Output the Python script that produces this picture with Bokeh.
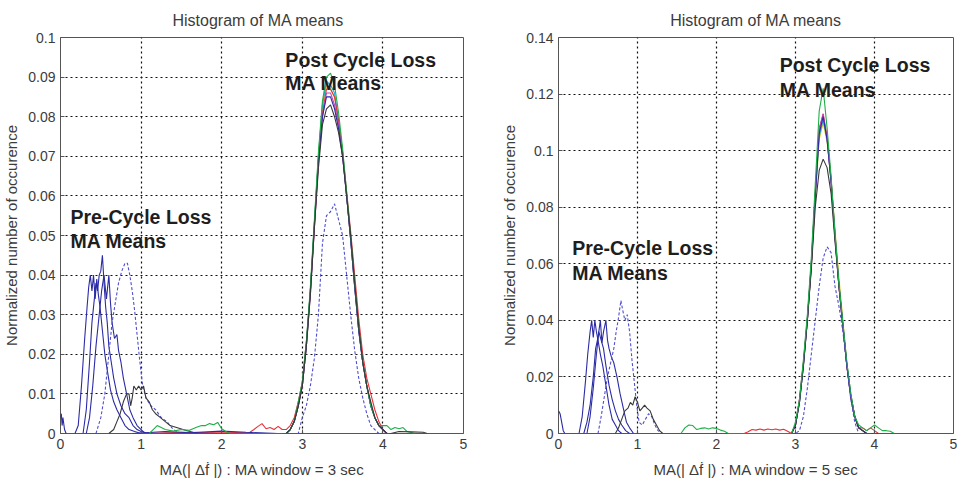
from bokeh.plotting import figure
from bokeh.layouts import row
from bokeh.models import FixedTicker, Label
from bokeh.embed import file_html
from bokeh.resources import INLINE

# ---------------- data: left panel (MA window = 3 sec) ----------------
L_YTICKS = [0, 0.01, 0.02, 0.03, 0.04, 0.05, 0.06, 0.07, 0.08, 0.09, 0.1]
L_YTICK_LABELS = ["0", "0.01", "0.02", "0.03", "0.04", "0.05", "0.06", "0.07", "0.08", "0.09", "0.1"]
XTICKS = [0, 1, 2, 3, 4, 5]
XTICK_LABELS = ["0", "1", "2", "3", "4", "5"]

L_SPIKE_X = [0.00, 0.01, 0.02, 0.03, 0.05, 0.07]
L_SPIKE_Y = [0.004, 0.005, 0.002, 0.004, 0.001, 0.0]

L_PRE_BLUE1_X = [0.18, 0.22, 0.26, 0.30, 0.33, 0.35, 0.37, 0.39, 0.41, 0.43, 0.45, 0.47,
                 0.49, 0.52, 0.55, 0.58, 0.62, 0.66, 0.70, 0.75, 0.80, 0.85, 0.92, 1.00]
L_PRE_BLUE1_Y = [0.0, 0.002, 0.012, 0.024, 0.032, 0.037, 0.040, 0.036, 0.040, 0.034, 0.039, 0.035,
                 0.032, 0.026, 0.020, 0.016, 0.011, 0.008, 0.006, 0.004, 0.002, 0.001, 0.0005, 0.0]

L_PRE_BLUE2_X = [0.28, 0.32, 0.36, 0.39, 0.42, 0.44, 0.46, 0.48, 0.50, 0.52, 0.54, 0.56,
                 0.58, 0.60, 0.63, 0.66, 0.70, 0.75, 0.80, 0.85, 0.90, 0.95, 1.00, 1.10]
L_PRE_BLUE2_Y = [0.0, 0.006, 0.018, 0.028, 0.034, 0.038, 0.036, 0.040, 0.041, 0.045, 0.038, 0.032,
                 0.028, 0.022, 0.018, 0.014, 0.010, 0.007, 0.005, 0.004, 0.002, 0.001, 0.0005, 0.0]

L_PRE_BLUE3_X = [0.32, 0.36, 0.40, 0.44, 0.48, 0.51, 0.54, 0.57, 0.60, 0.62, 0.64,
                 0.67, 0.70, 0.72, 0.75, 0.78, 0.82, 0.86, 0.90, 0.95, 1.00, 1.05]
L_PRE_BLUE3_Y = [0.0, 0.004, 0.012, 0.022, 0.030, 0.036, 0.040, 0.034, 0.040, 0.033, 0.028,
                 0.024, 0.025, 0.021, 0.018, 0.014, 0.010, 0.006, 0.004, 0.002, 0.001, 0.0]

L_PRE_DASH_X = [0.44, 0.50, 0.55, 0.60, 0.64, 0.68, 0.72, 0.76, 0.80, 0.83, 0.86, 0.89,
                0.92, 0.95, 0.98, 1.02, 1.06, 1.12, 1.18, 1.25, 1.32, 1.40, 1.50]
L_PRE_DASH_Y = [0.0, 0.004, 0.010, 0.020, 0.028, 0.033, 0.038, 0.041, 0.043, 0.043, 0.040, 0.036,
                0.031, 0.025, 0.019, 0.012, 0.009, 0.007, 0.006, 0.004, 0.003, 0.001, 0.0]

L_PRE_BLACK_X = [0.60, 0.66, 0.70, 0.74, 0.78, 0.82, 0.85, 0.87, 0.89, 0.91, 0.94, 0.97,
                 1.00, 1.03, 1.06, 1.10, 1.14, 1.18, 1.24, 1.30, 1.36, 1.44, 1.55, 1.70]
L_PRE_BLACK_Y = [0.0, 0.001, 0.003, 0.005, 0.008, 0.010, 0.010, 0.007, 0.009, 0.012, 0.011, 0.012,
                 0.011, 0.012, 0.009, 0.008, 0.006, 0.005, 0.004, 0.003, 0.002, 0.0015, 0.0008, 0.0]

L_GREEN_LOW_X = [1.10, 1.15, 1.20, 1.25, 1.30, 1.40, 1.50, 1.60, 1.68, 1.75, 1.80, 1.85,
                 1.90, 1.95, 2.00, 2.05, 2.10, 2.40, 2.70]
L_GREEN_LOW_Y = [0.0, 0.001, 0.002, 0.0015, 0.001, 0.0006, 0.001, 0.0008, 0.0015, 0.002, 0.002, 0.0025,
                 0.0022, 0.0028, 0.0012, 0.0005, 0.0, 0.0, 0.0]
L_RED_LOW_X = [1.00, 1.50, 2.00, 2.35, 2.40, 2.45, 2.50, 2.55, 2.60, 2.65, 2.70]
L_RED_LOW_Y = [0.0, 0.0003, 0.0002, 0.0003, 0.001, 0.0018, 0.0025, 0.0012, 0.0015, 0.001, 0.0018]
L_BLUE_LOW_X = [0.90, 1.30, 1.60, 2.00, 2.30, 2.70]
L_BLUE_LOW_Y = [0.0, 0.0005, 0.0002, 0.0006, 0.0003, 0.0]

L_POST_X = [2.75, 2.80, 2.85, 2.90, 2.95, 3.00, 3.05, 3.10, 3.15, 3.20, 3.25, 3.30, 3.35, 3.40,
            3.45, 3.50, 3.55, 3.60, 3.65, 3.70, 3.75, 3.80, 3.85, 3.90, 3.95, 4.00, 4.05, 4.10]
L_POST_YELLOW = [0.000, 0.000, 0.001, 0.003, 0.007, 0.012, 0.022, 0.036, 0.053, 0.070, 0.083, 0.088, 0.087, 0.085,
                 0.079, 0.071, 0.060, 0.049, 0.037, 0.026, 0.018, 0.012, 0.007, 0.004, 0.002, 0.001, 0.000, 0.000]
L_POST_CYAN = [0.000, 0.000, 0.001, 0.003, 0.007, 0.013, 0.023, 0.036, 0.053, 0.070, 0.083, 0.089, 0.088, 0.086,
               0.079, 0.071, 0.060, 0.049, 0.037, 0.026, 0.018, 0.012, 0.007, 0.004, 0.002, 0.001, 0.000, 0.000]
L_POST_RED = [0.001, 0.001, 0.002, 0.004, 0.008, 0.013, 0.023, 0.036, 0.052, 0.069, 0.081, 0.087, 0.087, 0.085,
              0.079, 0.071, 0.061, 0.051, 0.040, 0.029, 0.020, 0.014, 0.010, 0.006, 0.003, 0.001, 0.000, 0.000]
L_POST_MAGENTA = [0.000, 0.000, 0.001, 0.003, 0.007, 0.012, 0.022, 0.035, 0.052, 0.068, 0.080, 0.086, 0.086, 0.083,
                  0.078, 0.070, 0.060, 0.049, 0.037, 0.026, 0.018, 0.012, 0.007, 0.004, 0.002, 0.001, 0.000, 0.000]
L_POST_BLUE = [0.000, 0.000, 0.001, 0.003, 0.007, 0.012, 0.022, 0.036, 0.053, 0.069, 0.080, 0.085, 0.085, 0.082,
               0.077, 0.070, 0.060, 0.049, 0.037, 0.026, 0.018, 0.012, 0.007, 0.004, 0.002, 0.001, 0.000, 0.000]
L_POST_GREEN = [0.000, 0.000, 0.001, 0.003, 0.008, 0.013, 0.023, 0.037, 0.054, 0.071, 0.084, 0.090, 0.091, 0.088,
                0.081, 0.072, 0.061, 0.050, 0.038, 0.027, 0.018, 0.012, 0.007, 0.004, 0.002, 0.002, 0.002, 0.001]
L_POST_BLACK = [0.000, 0.000, 0.001, 0.003, 0.007, 0.012, 0.022, 0.035, 0.052, 0.067, 0.078, 0.082, 0.083, 0.080,
                0.076, 0.070, 0.060, 0.050, 0.038, 0.027, 0.018, 0.012, 0.008, 0.004, 0.002, 0.001, 0.000, 0.000]
L_POST_DASH = [0.000, 0.000, 0.000, 0.000, 0.000, 0.004, 0.007, 0.012, 0.019, 0.030, 0.048, 0.055, 0.056, 0.058,
               0.054, 0.050, 0.040, 0.030, 0.021, 0.014, 0.009, 0.005, 0.002, 0.001, 0.000, 0.000, 0.000, 0.000]
L_GREEN_TAIL_X = [4.15, 4.20, 4.25, 4.30, 4.40]
L_GREEN_TAIL_Y = [0.0015, 0.0012, 0.0015, 0.0005, 0.0]
L_BLACK_TAIL_X = [4.20, 4.35, 4.50, 4.55]
L_BLACK_TAIL_Y = [0.0005, 0.0004, 0.0003, 0.0]

# ---------------- data: right panel (MA window = 5 sec) ----------------
R_YTICKS = [0, 0.02, 0.04, 0.06, 0.08, 0.1, 0.12, 0.14]
R_YTICK_LABELS = ["0", "0.02", "0.04", "0.06", "0.08", "0.1", "0.12", "0.14"]

R_SPIKE_X = [0.00, 0.02, 0.04, 0.06, 0.08]
R_SPIKE_Y = [0.008, 0.007, 0.004, 0.001, 0.0]

R_PRE_BLUE1_X = [0.26, 0.30, 0.34, 0.37, 0.40, 0.42, 0.44, 0.46, 0.48, 0.50, 0.53, 0.56,
                 0.60, 0.64, 0.68, 0.72, 0.76, 0.80]
R_PRE_BLUE1_Y = [0.0, 0.006, 0.018, 0.028, 0.036, 0.040, 0.034, 0.040, 0.036, 0.033, 0.028, 0.024,
                 0.017, 0.010, 0.005, 0.003, 0.001, 0.0]

R_PRE_BLUE2_X = [0.32, 0.36, 0.40, 0.44, 0.47, 0.50, 0.53, 0.55, 0.57, 0.60, 0.62, 0.64,
                 0.67, 0.70, 0.74, 0.78, 0.82, 0.86, 0.90, 0.95]
R_PRE_BLUE2_Y = [0.0, 0.004, 0.010, 0.020, 0.030, 0.034, 0.040, 0.032, 0.036, 0.040, 0.033, 0.030,
                 0.027, 0.025, 0.020, 0.014, 0.009, 0.004, 0.002, 0.0]

R_PRE_BLUE3_X = [0.36, 0.40, 0.44, 0.48, 0.51, 0.54, 0.57, 0.60, 0.64, 0.68, 0.72, 0.76,
                 0.80, 0.85, 0.90]
R_PRE_BLUE3_Y = [0.0, 0.006, 0.016, 0.028, 0.036, 0.033, 0.030, 0.024, 0.017, 0.012, 0.008, 0.005,
                 0.003, 0.001, 0.0]

R_PRE_DASH_X = [0.50, 0.54, 0.58, 0.62, 0.66, 0.70, 0.73, 0.76, 0.79, 0.81, 0.84, 0.87,
                0.90, 0.93, 0.96, 0.99, 1.02, 1.06, 1.10, 1.14, 1.18, 1.22, 1.26, 1.31]
R_PRE_DASH_Y = [0.0, 0.006, 0.013, 0.020, 0.025, 0.030, 0.036, 0.041, 0.047, 0.044, 0.040, 0.042,
                0.036, 0.026, 0.018, 0.010, 0.004, 0.003, 0.005, 0.007, 0.006, 0.003, 0.001, 0.0]

R_PRE_BLACK_X = [0.72, 0.76, 0.80, 0.84, 0.88, 0.91, 0.94, 0.97, 1.00, 1.03, 1.06, 1.09,
                 1.12, 1.16, 1.20, 1.24, 1.28, 1.32]
R_PRE_BLACK_Y = [0.0, 0.002, 0.005, 0.008, 0.009, 0.011, 0.010, 0.013, 0.011, 0.008, 0.009, 0.010,
                 0.009, 0.008, 0.005, 0.003, 0.001, 0.0]

R_GREEN_LOW_X = [1.55, 1.60, 1.65, 1.70, 1.75, 1.80, 1.85, 1.90, 1.95, 2.00, 2.05, 2.10,
                 2.15, 2.50, 2.90]
R_GREEN_LOW_Y = [0.0, 0.002, 0.003, 0.0028, 0.0014, 0.0018, 0.002, 0.0016, 0.002, 0.0018, 0.0012, 0.0008,
                 0.0, 0.0, 0.0]
R_RED_LOW_X = [2.35, 2.40, 2.45, 2.50, 2.55, 2.60, 2.65, 2.70, 2.75, 2.80, 2.85, 2.90]
R_RED_LOW_Y = [0.0, 0.0006, 0.0014, 0.0012, 0.0016, 0.0012, 0.0016, 0.0013, 0.0016, 0.0012, 0.0015, 0.0008]

R_POST_X = [2.95, 3.00, 3.05, 3.10, 3.15, 3.20, 3.25, 3.30, 3.35, 3.40, 3.45, 3.50,
            3.55, 3.60, 3.65, 3.70, 3.75, 3.80, 3.85, 3.90, 3.95, 4.00, 4.05, 4.10]
R_POST_YELLOW = [0.000, 0.003, 0.011, 0.024, 0.040, 0.059, 0.083, 0.104, 0.110, 0.103, 0.090, 0.072,
                 0.055, 0.040, 0.025, 0.014, 0.006, 0.002, 0.001, 0.000, 0.000, 0.000, 0.000, 0.000]
R_POST_CYAN = [0.000, 0.003, 0.011, 0.024, 0.040, 0.060, 0.084, 0.105, 0.111, 0.104, 0.090, 0.071,
               0.053, 0.039, 0.025, 0.014, 0.006, 0.002, 0.001, 0.000, 0.000, 0.000, 0.000, 0.000]
R_POST_MAGENTA = [0.000, 0.003, 0.012, 0.025, 0.041, 0.060, 0.085, 0.108, 0.113, 0.104, 0.089, 0.070,
                  0.052, 0.038, 0.024, 0.013, 0.006, 0.002, 0.001, 0.000, 0.000, 0.000, 0.000, 0.000]
R_POST_RED = [0.000, 0.003, 0.012, 0.025, 0.040, 0.060, 0.085, 0.107, 0.113, 0.105, 0.090, 0.070,
              0.052, 0.038, 0.024, 0.013, 0.006, 0.002, 0.002, 0.001, 0.002, 0.001, 0.000, 0.000]
R_POST_BLUE = [0.000, 0.003, 0.011, 0.024, 0.040, 0.059, 0.084, 0.106, 0.112, 0.104, 0.089, 0.069,
               0.052, 0.038, 0.024, 0.013, 0.006, 0.002, 0.001, 0.000, 0.000, 0.000, 0.000, 0.000]
R_POST_GREEN = [0.000, 0.004, 0.012, 0.026, 0.042, 0.062, 0.088, 0.114, 0.122, 0.108, 0.091, 0.071,
                0.053, 0.039, 0.025, 0.014, 0.006, 0.003, 0.002, 0.001, 0.002, 0.003, 0.002, 0.001]
R_POST_BLACK = [0.000, 0.003, 0.011, 0.024, 0.040, 0.058, 0.080, 0.093, 0.097, 0.094, 0.085, 0.068,
                0.052, 0.038, 0.024, 0.013, 0.006, 0.002, 0.001, 0.000, 0.000, 0.000, 0.000, 0.000]
R_POST_DASH = [0.000, 0.000, 0.001, 0.006, 0.016, 0.028, 0.040, 0.052, 0.062, 0.066, 0.064, 0.052,
               0.045, 0.036, 0.024, 0.012, 0.004, 0.000, 0.000, 0.000, 0.000, 0.000, 0.000, 0.000]
R_GREEN_TAIL_X = [4.15, 4.20, 4.25]
R_GREEN_TAIL_Y = [0.001, 0.0008, 0.0]

# ---------------- styling ----------------
FONT = "Liberation Sans"
TEXT_COLOR = "#3c3c3c"
BLUE = "#2b2ba6"
DASH_BLUE = "#4f4fd0"
BLACK = "#383838"
GREEN = "#1fae48"
RED = "#e8323a"
CYAN = "#1aa8e0"
YELLOW = "#d8cc00"
MAGENTA = "#c040c0"
LW = 1.1


def make_panel(width, height, borders, y_max, yticks, ytick_labels, xlabel):
    left, right, top, bottom = borders
    p = figure(width=width, height=height, x_range=(0, 5), y_range=(0, y_max),
               output_backend="svg", toolbar_location=None,
               min_border_left=left, min_border_right=right,
               min_border_top=top, min_border_bottom=bottom)
    p.background_fill_color = "white"
    p.border_fill_color = "white"
    p.outline_line_color = "#555555"
    p.outline_line_width = 1

    p.xaxis.ticker = FixedTicker(ticks=XTICKS)
    p.xaxis.major_label_overrides = {t: s for t, s in zip(XTICKS, XTICK_LABELS)}
    p.yaxis.ticker = FixedTicker(ticks=yticks)
    p.yaxis.major_label_overrides = {t: s for t, s in zip(yticks, ytick_labels)}
    p.xaxis.minor_tick_line_color = None
    p.yaxis.minor_tick_line_color = None

    for ax in (p.xaxis[0], p.yaxis[0]):
        ax.axis_line_color = None
        ax.major_tick_in = 4
        ax.major_tick_out = 0
        ax.major_tick_line_color = "#555555"
        ax.major_label_text_font = FONT
        ax.major_label_text_font_size = "14px"
        ax.major_label_text_color = TEXT_COLOR
        ax.axis_label_text_font = FONT
        ax.axis_label_text_font_size = "15px"
        ax.axis_label_text_font_style = "normal"
        ax.axis_label_text_color = TEXT_COLOR
        ax.major_label_standoff = 5

    p.xaxis.axis_label = xlabel
    p.xaxis.axis_label_standoff = 9
    p.yaxis.axis_label = "Normalized number of occurence"
    p.yaxis.axis_label_standoff = 5

    p.xgrid.ticker = FixedTicker(ticks=XTICKS)
    p.ygrid.ticker = FixedTicker(ticks=yticks)
    for g in (p.xgrid[0], p.ygrid[0]):
        g.grid_line_color = "#111111"
        g.grid_line_dash = "2 3"
        g.grid_line_width = 1.2
        g.grid_line_alpha = 1.0

    p.title.text = "Histogram of MA means"
    p.title.text_font = FONT
    p.title.text_font_size = "16px"
    p.title.text_font_style = "normal"
    p.title.text_color = TEXT_COLOR
    p.title.standoff = 18
    return p


def add_text(p, x, y, txt):
    p.add_layout(Label(x=x, y=y, text=txt, text_font=FONT, text_font_size="19.5px",
                       text_font_style="bold", text_color="#1e1e1e",
                       text_baseline="top", text_align="left"))


# ---------------- left panel ----------------
p1 = make_panel(480, 487, (60, 17, 34, 54), 0.1, L_YTICKS, L_YTICK_LABELS,
                "MA(| \u0394\u1e1f |) : MA window = 3 sec")
p1.title.align = "left"
p1.title.offset = 112

p1.line(L_SPIKE_X, L_SPIKE_Y, line_color=BLUE, line_width=LW)
p1.line(L_PRE_BLUE1_X, L_PRE_BLUE1_Y, line_color=BLUE, line_width=LW)
p1.line(L_PRE_BLUE2_X, L_PRE_BLUE2_Y, line_color=BLUE, line_width=LW)
p1.line(L_PRE_BLUE3_X, L_PRE_BLUE3_Y, line_color=BLUE, line_width=LW)
p1.line(L_PRE_DASH_X, L_PRE_DASH_Y, line_color=DASH_BLUE, line_width=LW, line_dash="3 2")
p1.line(L_PRE_BLACK_X, L_PRE_BLACK_Y, line_color=BLACK, line_width=LW)

p1.line(L_POST_X, L_POST_YELLOW, line_color=YELLOW, line_width=LW)
p1.line(L_POST_X, L_POST_CYAN, line_color=CYAN, line_width=LW)
p1.line(L_RED_LOW_X + L_POST_X, L_RED_LOW_Y + L_POST_RED, line_color=RED, line_width=LW)
p1.line(L_POST_X, L_POST_MAGENTA, line_color=MAGENTA, line_width=LW)
p1.line(L_BLUE_LOW_X + L_POST_X, L_BLUE_LOW_Y + L_POST_BLUE, line_color=BLUE, line_width=LW)
p1.line(L_GREEN_LOW_X + L_POST_X + L_GREEN_TAIL_X, L_GREEN_LOW_Y + L_POST_GREEN + L_GREEN_TAIL_Y,
        line_color=GREEN, line_width=LW)
p1.line(L_POST_X + L_BLACK_TAIL_X, L_POST_BLACK + L_BLACK_TAIL_Y, line_color=BLACK, line_width=LW)
p1.line(L_POST_X, L_POST_DASH, line_color=DASH_BLUE, line_width=LW, line_dash="3 2")

add_text(p1, 2.79, 0.0970, "Post Cycle Loss")
add_text(p1, 2.79, 0.0912, "MA Means")
add_text(p1, 0.124, 0.0574, "Pre-Cycle Loss")
add_text(p1, 0.124, 0.0514, "MA Means")

# ---------------- right panel ----------------
p2 = make_panel(477, 487, (78, 4, 36, 53), 0.14, R_YTICKS, R_YTICK_LABELS,
                "MA(| \u0394\u1e1f |) : MA window = 5 sec")
p2.title.align = "center"

p2.line(R_SPIKE_X, R_SPIKE_Y, line_color=BLUE, line_width=LW)
p2.line(R_PRE_BLUE1_X, R_PRE_BLUE1_Y, line_color=BLUE, line_width=LW)
p2.line(R_PRE_BLUE2_X, R_PRE_BLUE2_Y, line_color=BLUE, line_width=LW)
p2.line(R_PRE_BLUE3_X, R_PRE_BLUE3_Y, line_color=BLUE, line_width=LW)
p2.line(R_PRE_DASH_X, R_PRE_DASH_Y, line_color=DASH_BLUE, line_width=LW, line_dash="3 2")
p2.line(R_PRE_BLACK_X, R_PRE_BLACK_Y, line_color=BLACK, line_width=LW)

p2.line(R_POST_X, R_POST_YELLOW, line_color=YELLOW, line_width=LW)
p2.line(R_POST_X, R_POST_CYAN, line_color=CYAN, line_width=LW)
p2.line(R_RED_LOW_X + R_POST_X, R_RED_LOW_Y + R_POST_RED, line_color=RED, line_width=LW)
p2.line(R_POST_X, R_POST_MAGENTA, line_color=MAGENTA, line_width=LW)
p2.line(R_POST_X, R_POST_BLUE, line_color=BLUE, line_width=LW)
p2.line(R_POST_X, R_POST_BLACK, line_color=BLACK, line_width=LW)
p2.line(R_GREEN_LOW_X + R_POST_X + R_GREEN_TAIL_X, R_GREEN_LOW_Y + R_POST_GREEN + R_GREEN_TAIL_Y,
        line_color=GREEN, line_width=LW)
p2.line(R_POST_X, R_POST_DASH, line_color=DASH_BLUE, line_width=LW, line_dash="3 2")

add_text(p2, 2.80, 0.1340, "Post Cycle Loss")
add_text(p2, 2.80, 0.1253, "MA Means")
add_text(p2, 0.173, 0.0694, "Pre-Cycle Loss")
add_text(p2, 0.173, 0.0608, "MA Means")

layout = row(p1, p2)
open("out.html", "w").write(file_html(layout, INLINE))
